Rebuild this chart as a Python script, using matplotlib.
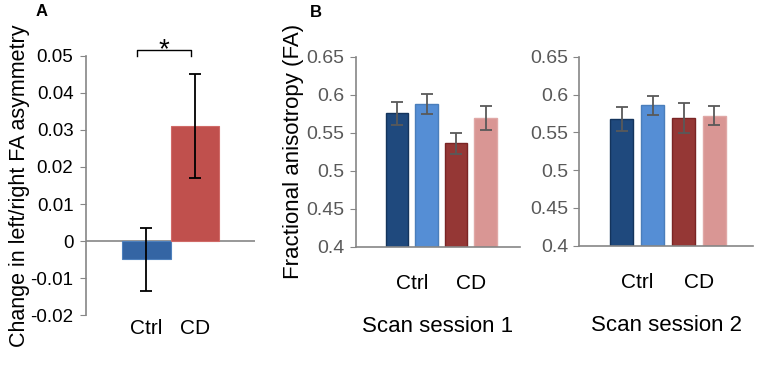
import numpy as np
import matplotlib
matplotlib.use('Agg')
from matplotlib import pyplot as plt

plt.rcParams['font.family'] = ['Liberation Sans', 'DejaVu Sans']

# panel A: change in asymmetry
groups = ['Ctrl', 'CD']
asym = [-0.0049, 0.0311]
asym_err = [0.0085, 0.0141]

# panel B: FA per scan session (Ctrl dark, Ctrl light, CD dark, CD light)
fa_s1 = [0.5755, 0.5878, 0.5360, 0.5697]
fa_s1_err = [0.0150, 0.0130, 0.0140, 0.0155]
fa_s2 = [0.5680, 0.5857, 0.5693, 0.5720]
fa_s2_err = [0.0158, 0.0128, 0.0200, 0.0125]
sessions = ['Scan session 1', 'Scan session 2']

spine_col = '#868686'
b_fill = ['#1f497d', '#558ed5', '#953735', '#d99694']
b_edge = ['#14345c', '#4a7ebb', '#7a2424', '#e0a8a6']

fig = plt.figure(figsize=(7.65, 3.71), dpi=100)

# ---- A ----
axA = fig.add_axes([0.1124, 0.1509, 0.2209, 0.6982])
xa = np.arange(len(groups))
axA.bar(xa, asym, width=1.0, color=['#3465a4', '#c0504d'],
        edgecolor=['#4f81bd', '#d06a67'], linewidth=0.8, zorder=2)
axA.errorbar(xa, asym, yerr=asym_err, fmt='none', ecolor='black',
             elinewidth=1.3, capsize=4, capthick=1.3, zorder=3)
axA.axhline(0, color=spine_col, lw=1.2, zorder=1)
axA.set_xlim(-1.247, 2.237)
axA.set_ylim(-0.02, 0.05)
axA.set_yticks(np.arange(-0.02, 0.051, 0.01))
axA.set_yticklabels(['-0.02', '-0.01', '0', '0.01', '0.02', '0.03', '0.04', '0.05'])
axA.set_xticks(xa)
axA.set_xticklabels(groups)
axA.tick_params(axis='x', length=0, labelsize=15, pad=3)
axA.tick_params(axis='y', length=4, color=spine_col, labelsize=13.5, pad=5)
for s in ['top', 'right', 'bottom']:
    axA.spines[s].set_visible(False)
axA.spines['left'].set_color(spine_col)
axA.spines['left'].set_linewidth(1.2)
axA.set_ylabel('Change in left/right FA asymmetry', fontsize=15.5, labelpad=0.5)
# significance bracket
bx = [-0.19, -0.19, 0.91, 0.91]
by = [0.0500, 0.0515, 0.0515, 0.0500]
axA.plot(bx, by, color='black', lw=1.0, clip_on=False)
axA.text(0.36, 0.0497, '*', ha='center', va='baseline', fontsize=20, clip_on=False)
fig.text(0.055, 0.97, 'A', fontsize=12, fontweight='bold', ha='center', va='center')

# ---- B ----
def fa_panel(rect, vals, errs, xl, label):
    ax = fig.add_axes(rect)
    x = np.arange(len(vals))
    ax.bar(x, vals, width=0.76, color=b_fill, edgecolor=b_edge, linewidth=1.0, zorder=2)
    ax.errorbar(x, vals, yerr=errs, fmt='none', ecolor='#595959',
                elinewidth=1.3, capsize=4, capthick=1.3, zorder=3)
    ax.set_xlim(*xl)
    ax.set_ylim(0.4, 0.65)
    ax.set_yticks([0.4, 0.45, 0.5, 0.55, 0.6, 0.65])
    ax.set_yticklabels(['0.4', '0.45', '0.5', '0.55', '0.6', '0.65'])
    ax.set_xticks([0.5, 2.5])
    ax.set_xticklabels(groups)
    ax.tick_params(axis='x', length=0, labelsize=15, pad=20)
    ax.tick_params(axis='y', length=4, color=spine_col, labelsize=14, labelcolor='#595959', pad=4)
    for s in ['top', 'right']:
        ax.spines[s].set_visible(False)
    for s in ['left', 'bottom']:
        ax.spines[s].set_color(spine_col)
        ax.spines[s].set_linewidth(1.2)
    ax.set_xlabel(label, fontsize=16, labelpad=16)
    return ax

axB1 = fa_panel([0.4650, 0.3350, 0.2148, 0.5122], fa_s1, fa_s1_err, (-1.4, 4.17), sessions[0])
axB1.set_ylabel('Fractional anisotropy (FA)', fontsize=16, labelpad=2)
axB2 = fa_panel([0.7573, 0.3377, 0.2275, 0.5094], fa_s2, fa_s2_err, (-1.37, 4.26), sessions[1])
fig.text(0.413, 0.965, 'B', fontsize=12, fontweight='bold', ha='center', va='center')

plt.savefig('out.png', dpi=100)
